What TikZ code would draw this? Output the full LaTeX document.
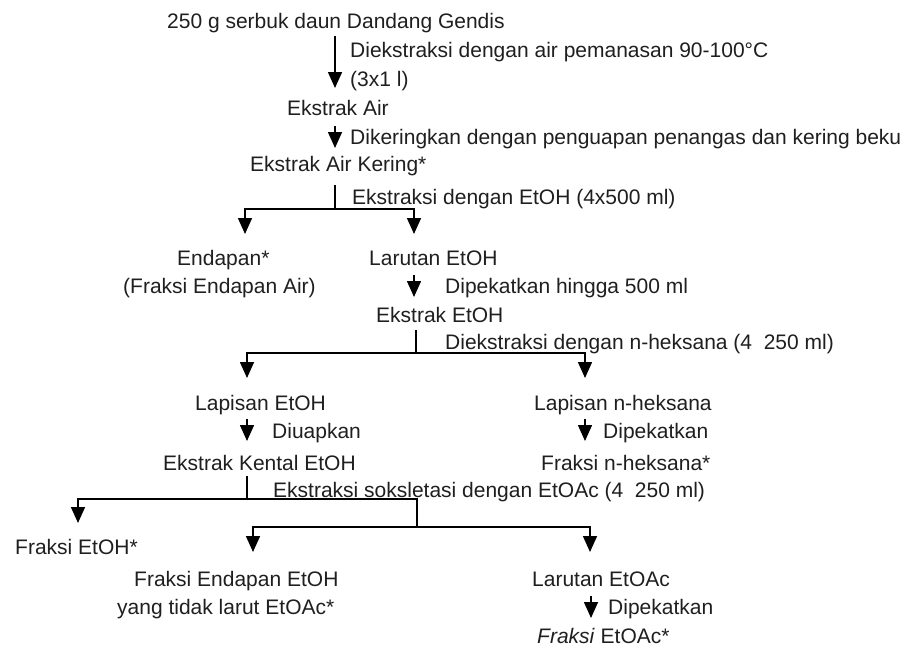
\documentclass[tikz,border=0pt]{standalone}
\usepackage{fontspec}
\setmainfont{Liberation Sans}
\usetikzlibrary{arrows.meta}
\begin{document}
\begin{tikzpicture}[x=1pt,y=-1pt,
  lbl/.style={anchor=base west, inner sep=0pt, font=\fontsize{21pt}{25pt}\selectfont, text=black!88},
  flow/.style={line width=1.5pt, -{Triangle[width=14pt,length=16pt]}},
  ln/.style={line width=1.5pt}]
\useasboundingbox[fill=white] (0,0) rectangle (922,648);
% texts (left x, baseline y)
\node[lbl] (t1)  at (167,28.5)  {250 g serbuk daun Dandang Gendis};
\node[lbl] (n1)  at (350,57.5)  {Diekstraksi dengan air pemanasan 90-100°C};
\node[lbl] (n1b) at (350,86.5)  {(3x1 l)};
\node[lbl] (t2)  at (287,115.5) {Ekstrak Air};
\node[lbl] (n2)  at (350,144.5) {Dikeringkan dengan penguapan penangas dan kering beku};
\node[lbl] (t3)  at (250,171.5) {Ekstrak Air Kering*};
\node[lbl] (n3)  at (352,204.5) {Ekstraksi dengan EtOH (4x500 ml)};
\node[lbl] (t4)  at (177,265.5) {Endapan*};
\node[lbl] (t4b) at (123,293.5) {(Fraksi Endapan Air)};
\node[lbl] (t5)  at (369,265.5) {Larutan EtOH};
\node[lbl] (n5)  at (445,293.5) {Dipekatkan hingga 500 ml};
\node[lbl] (t6)  at (376,322.5) {Ekstrak EtOH};
\node[lbl] (n6)  at (445,349.5) {Diekstraksi dengan n-heksana (4~~250 ml)};
\node[lbl] (t7)  at (195,410.5) {Lapisan EtOH};
\node[lbl] (t8)  at (534,410.5) {Lapisan n-heksana};
\node[lbl] (n7)  at (272,438.5) {Diuapkan};
\node[lbl] (n8)  at (603,438.5) {Dipekatkan};
\node[lbl] (t9)  at (163,470.5) {Ekstrak Kental EtOH};
\node[lbl] (t10) at (541,470.5) {Fraksi n-heksana*};
\node[lbl] (n9)  at (273,497.5) {Ekstraksi soksletasi dengan EtOAc (4~~250 ml)};
\node[lbl] (t11) at (15,554.5)  {Fraksi EtOH*};
\node[lbl] (t12) at (134,586.5) {Fraksi Endapan EtOH};
\node[lbl] (t12b) at (117,614.5) {yang tidak larut EtOAc*};
\node[lbl] (t13) at (532,586.5) {Larutan EtOAc};
\node[lbl] (n13) at (608,614.5) {Dipekatkan};
\node[lbl] (t14) at (537,643.5) {\textit{Fraksi} EtOAc*};
% connector points
\coordinate (a1s) at (335,36);  \coordinate (a1e) at (335,88);
\coordinate (a2s) at (335,126); \coordinate (a2e) at (335,148);
\coordinate (s1t) at (335,185); \coordinate (s1m) at (335,209);
\coordinate (s1l) at (245,234); \coordinate (s1r) at (414,234);
\coordinate (a3s) at (414,275); \coordinate (a3e) at (414,297);
\coordinate (s2t) at (416,330); \coordinate (s2m) at (416,353);
\coordinate (s2l) at (247,378); \coordinate (s2r) at (585,378);
\coordinate (a4s) at (247,419); \coordinate (a4e) at (247,441);
\coordinate (a5s) at (585,419); \coordinate (a5e) at (585,441);
\coordinate (s3t) at (247,476); \coordinate (s3m) at (247,499);
\coordinate (s3l) at (78,523);  \coordinate (s3c) at (417,499);
\coordinate (s3d) at (417,527);
\coordinate (s4l) at (253,552); \coordinate (s4r) at (590,552);
\coordinate (a6s) at (591,596); \coordinate (a6e) at (591,618);
% connectors
\draw[flow] (a1s) -- (a1e);
\draw[flow] (a2s) -- (a2e);
\draw[ln] (s1t) -- (s1m);
\draw[flow] (s1m) -| (s1l);
\draw[flow] (s1m) -| (s1r);
\draw[flow] (a3s) -- (a3e);
\draw[ln] (s2t) -- (s2m);
\draw[flow] (s2m) -| (s2l);
\draw[flow] (s2m) -| (s2r);
\draw[flow] (a4s) -- (a4e);
\draw[flow] (a5s) -- (a5e);
\draw[ln] (s3t) -- (s3m);
\draw[flow] (s3m) -| (s3l);
\draw[ln] (s3m) -- (s3c) -- (s3d);
\draw[flow] (s3d) -| (s4l);
\draw[flow] (s3d) -| (s4r);
\draw[flow] (a6s) -- (a6e);
\end{tikzpicture}
\end{document}
